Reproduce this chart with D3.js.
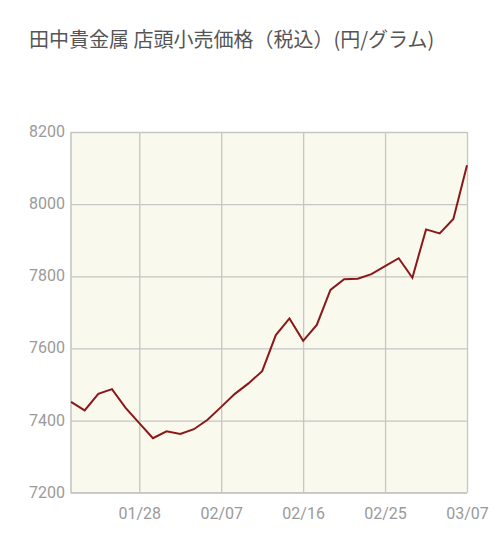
<!DOCTYPE html>
<html>
<head>
<meta charset="utf-8">
<script src="https://cdn.jsdelivr.net/npm/d3@7"></script>
<style>
  body { margin: 0; background: #fff; }
  svg { display: block; }
</style>
</head>
<body>
<svg width="500" height="535"></svg>
<script>
var svg = d3.select("svg"),
  width = +svg.attr("width"),
  height = +svg.attr("height");

// trading days shown (2022), MM/DD
var dates = [
  "01/21", "01/24", "01/25", "01/26", "01/27", "01/28",
  "01/31", "02/01", "02/02", "02/03", "02/04", "02/07",
  "02/08", "02/09", "02/10", "02/14", "02/15", "02/16",
  "02/17", "02/18", "02/21", "02/22", "02/24", "02/25",
  "02/28", "03/01", "03/02", "03/03", "03/04", "03/07"
];
// retail price, yen per gram (tax included)
var prices = [
  7452, 7428, 7474, 7487, 7435, 7393,
  7351, 7370, 7363, 7376, 7402, 7438,
  7474, 7503, 7537, 7637, 7683, 7621,
  7665, 7762, 7792, 7793, 7806, 7828,
  7850, 7796, 7930, 7919, 7959, 8108
];
var xTickLabels = ["01/28", "02/07", "02/16", "02/25", "03/07"];
var yTicks = [7200, 7400, 7600, 7800, 8000, 8200];

var title = "田中貴金属 店頭小売価格（税込）(円/グラム)";

const plotLeft = 71, plotRight = 467, plotTop = 132, plotBottom = 492.7;
const gridColor = "#c6c6c2";
const labelColor = "#9a9a9a";
const font = "Roboto, 'Noto Sans', sans-serif";

const xScale = d3.scalePoint().domain(dates).range([plotLeft, plotRight]).padding(0);
const yScale = d3.scaleLinear().domain([7200, 8200]).range([plotBottom, plotTop]);

// title
svg
  .append("text")
  .attr("x", 29)
  .attr("y", 46.5)
  .attr("font-family", "'Noto Sans CJK JP', sans-serif")
  .attr("font-size", 20)
  .attr("fill", "#555")
  .text(title);

// plot background
svg
  .append("rect")
  .attr("x", plotLeft)
  .attr("y", plotTop)
  .attr("width", plotRight - plotLeft)
  .attr("height", plotBottom - plotTop)
  .attr("fill", "#f9f9ee");

// horizontal gridlines + y labels
const yAxis = d3
  .axisLeft(yScale)
  .tickValues(yTicks)
  .tickSize(-(plotRight - plotLeft))
  .tickPadding(6)
  .tickFormat(d3.format("d"));
const gy = svg.append("g").attr("transform", "translate(" + plotLeft + ",0)").call(yAxis);
gy.select(".domain").remove();
gy.selectAll(".tick line").attr("stroke", gridColor).attr("stroke-width", 1.3);
gy.selectAll(".tick text")
  .attr("fill", labelColor)
  .attr("font-family", font)
  .attr("font-size", 16)
  .attr("dy", "0.28em");

// vertical gridlines + x labels
const xAxis = d3
  .axisBottom(xScale)
  .tickValues(xTickLabels)
  .tickSize(-(plotBottom - plotTop))
  .tickPadding(15);
const gx = svg.append("g").attr("transform", "translate(0," + plotBottom + ")").call(xAxis);
gx.select(".domain").remove();
gx.selectAll(".tick line").attr("stroke", gridColor).attr("stroke-width", 1.3);
gx.selectAll(".tick text")
  .attr("fill", labelColor)
  .attr("font-family", font)
  .attr("font-size", 16);

// left and bottom frame
svg
  .append("path")
  .attr("d", "M" + plotLeft + "," + plotTop + "V" + plotBottom + "H" + plotRight)
  .attr("fill", "none")
  .attr("stroke", gridColor)
  .attr("stroke-width", 1.6);

// price line
const line = d3
  .line()
  .x(function (d, i) {
    return xScale(dates[i]);
  })
  .y(function (d) {
    return yScale(d);
  });
svg
  .append("path")
  .datum(prices)
  .attr("d", line)
  .attr("fill", "none")
  .attr("stroke", "#8a1818")
  .attr("stroke-width", 2)
  .attr("stroke-linejoin", "miter");
</script>
</body>
</html>
